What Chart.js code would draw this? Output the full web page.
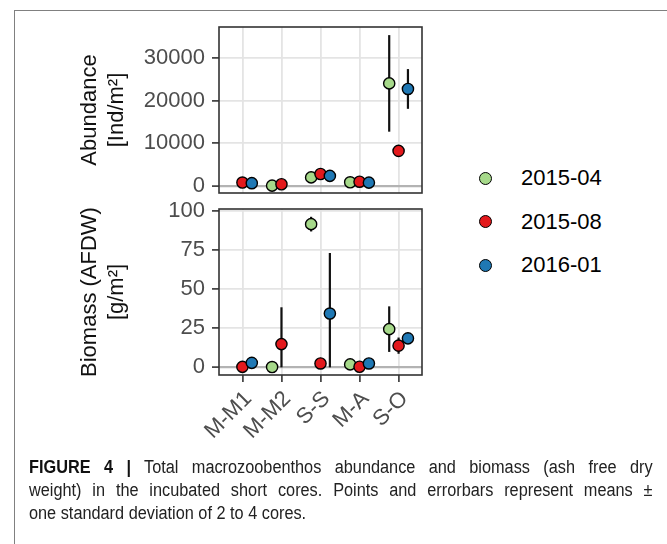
<!DOCTYPE html>
<html>
<head>
<meta charset="utf-8">
<script src="https://cdn.jsdelivr.net/npm/chart.js@4/dist/chart.umd.min.js"></script>
<style>
  html, body { margin: 0; padding: 0; background: #fff; }
  body { width: 667px; height: 544px; position: relative; overflow: hidden;
         font-family: "Liberation Sans", Arial, Helvetica, sans-serif; }
  #frame { position: absolute; left: 14px; top: 10px; width: 720px; height: 600px;
           border-left: 1.5px solid #808080; border-top: 1.5px solid #808080; }
  #topChart { position: absolute; left: 0; top: 0; }
  #bottomChart { position: absolute; left: 0; top: 180px; }
  .legend-row { position: absolute; left: 479px; height: 26px; display: flex; align-items: center; }
  .legend-dot { width: 13px; height: 13px; box-sizing: border-box; border-radius: 50%;
                border: 1.3px solid #000; margin-right: 29px; }
  .legend-text { font-size: 22px; color: #000; }
  #caption { position: absolute; left: 29px; top: 456px; width: 689px; font-size: 18px;
             line-height: 23px; color: #222; transform: scaleX(0.905); transform-origin: 0 0; }
  #caption div { white-space: nowrap; text-align: justify; text-align-last: justify; }
  #caption div.last { text-align-last: left; }
  #caption b { color: #111; }
</style>
</head>
<body>
<div id="frame"></div>
<canvas id="topChart" width="440" height="214"></canvas>
<canvas id="bottomChart" width="440" height="290"></canvas>
<div id="legend"></div>
<div id="caption">
  <div><b>FIGURE 4 |</b> Total macrozoobenthos abundance and biomass (ash free dry</div>
  <div>weight) in the incubated short cores. Points and errorbars represent means ±</div>
  <div class="last">one standard deviation of 2 to 4 cores.</div>
</div>
<script>
// Sampling sites and sampling campaigns
const categories = ['M-M1', 'M-M2', 'S-S', 'M-A', 'S-O'];
const campaigns = ['2015-04', '2015-08', '2016-01'];
const campaignColors = ['#a6d98a', '#e3191c', '#1f78b4'];

// Abundance [Ind/m²]: means and standard deviations per campaign
const abundanceMean0415 = [null, 80, 2000, 860, 24000];
const abundanceMean0815 = [800, 400, 2800, 1000, 8200];
const abundanceMean0116 = [650, null, 2350, 770, 22700];
const abundanceSd0415 = [null, 60, 500, 300, 11300];
const abundanceSd0815 = [400, 300, 700, 500, 900];
const abundanceSd0116 = [300, null, 600, 300, 4650];

// Biomass (AFDW) [g/m²]: means and standard deviations per campaign
const biomassMean0415 = [null, 0.2, 91.8, 1.9, 24.5];
const biomassMean0815 = [0.3, 14.9, 2.5, 0.4, 13.9];
const biomassMean0116 = [2.9, null, 34.5, 2.5, 18.6];
const biomassSd0415 = [null, 0.2, 4.7, 1.5, 14.6];
const biomassSd0815 = [0.3, 23.6, 2.0, 0.4, 5.2];
const biomassSd0116 = [2.0, null, 38.8, 2.0, 2.5];

// Tick values
const abundanceTicks = [0, 5000, 10000, 15000, 20000, 25000, 30000, 35000];
const biomassTicks = [0, 12.5, 25, 37.5, 50, 62.5, 75, 87.5, 100];
const abundanceLabelStep = 10000;
const biomassLabelStep = 25;

const dodge = [-0.24, 0, 0.24];

Chart.defaults.font.family = "'Liberation Sans', Arial, Helvetica, sans-serif";
Chart.defaults.font.size = 22;

function makeDatasets(means, sds) {
  return campaigns.map((name, s) => ({
    label: name,
    data: categories.map((c, i) => ({ x: i + 1 + dodge[s], y: means[s][i] })),
    sd: sds[s],
    pointRadius: 5.6,
    pointHoverRadius: 5.6,
    pointBorderWidth: 1.4,
    pointBorderColor: '#000',
    pointBackgroundColor: campaignColors[s],
    showLine: false,
    order: campaigns.length - s
  }));
}

// Vertical error bars (mean ± sd, floored at zero), drawn beneath the points
const errorBars = {
  id: 'errorBars',
  beforeDatasetsDraw(chart) {
    const { ctx, scales: { x, y } } = chart;
    ctx.save();
    ctx.strokeStyle = '#111';
    ctx.lineWidth = 2.2;
    chart.data.datasets.forEach(ds => {
      ds.data.forEach((pt, i) => {
        if (pt.y == null || ds.sd[i] == null) return;
        const px = x.getPixelForValue(pt.x);
        const hi = y.getPixelForValue(pt.y + ds.sd[i]);
        const lo = y.getPixelForValue(Math.max(0, pt.y - ds.sd[i]));
        ctx.beginPath();
        ctx.moveTo(px, hi);
        ctx.lineTo(px, lo);
        ctx.stroke();
      });
    });
    ctx.restore();
  }
};

// Dark box around each panel
const panelBox = {
  id: 'panelBox',
  afterDatasetsDraw(chart) {
    const { ctx, chartArea: a } = chart;
    ctx.save();
    ctx.strokeStyle = '#333';
    ctx.lineWidth = 1.6;
    ctx.strokeRect(a.left, a.top, a.right - a.left, a.bottom - a.top);
    ctx.restore();
  }
};

function yScale(min, max, ticks, step, title) {
  const isMajor = v => Math.abs(v / step - Math.round(v / step)) < 1e-9;
  return {
    type: 'linear',
    min, max,
    afterBuildTicks: s => { s.ticks = ticks.map(v => ({ value: v })); },
    afterFit: s => { s.width = 142; },
    border: { display: false },
    grid: {
      color: c => c.tick && c.tick.value === 0 ? '#b3b3b3' : (isMajor(c.tick.value) ? '#e4e4e4' : '#eeeeee'),
      lineWidth: c => c.tick && c.tick.value === 0 ? 2.2 : (isMajor(c.tick.value) ? 1.8 : 1.2),
      tickColor: c => isMajor(c.tick.value) ? '#333' : 'rgba(0,0,0,0)',
      tickWidth: 1.6,
      tickLength: 7
    },
    ticks: {
      color: '#4d4d4d',
      padding: 7,
      font: { size: 22 },
      callback: v => isMajor(v) ? String(v) : ''
    },
    title: {
      display: true,
      text: title,
      color: '#111',
      padding: 0,
      font: { size: 22, lineHeight: 1.2 }
    }
  };
}

function xScale(showLabels, height) {
  return {
    type: 'linear',
    min: 0.4, max: 5.6,
    afterBuildTicks: s => { s.ticks = categories.map((c, i) => ({ value: i + 1 })); },
    afterFit: s => { s.height = height; },
    border: { display: false },
    grid: {
      color: '#e4e4e4',
      lineWidth: 1.8,
      drawTicks: showLabels,
      tickColor: '#333',
      tickWidth: 1.6,
      tickLength: 7
    },
    ticks: {
      display: showLabels,
      color: '#4d4d4d',
      padding: 4,
      labelOffset: 6,
      font: { size: 22 },
      minRotation: 45,
      maxRotation: 45,
      autoSkip: false,
      callback: v => categories[Math.round(v) - 1] || ''
    }
  };
}

const commonOptions = {
  responsive: false,
  animation: false,
  events: [],
  plugins: { legend: { display: false }, tooltip: { enabled: false } }
};

new Chart(document.getElementById('topChart'), {
  type: 'scatter',
  data: { datasets: makeDatasets([abundanceMean0415, abundanceMean0815, abundanceMean0116],
                                 [abundanceSd0415, abundanceSd0815, abundanceSd0116]) },
  options: Object.assign({}, commonOptions, {
    layout: { padding: { left: 77, top: 27, right: 18, bottom: 21 } },
    scales: {
      x: xScale(false, 0),
      y: yScale(-1650, 37200, abundanceTicks, abundanceLabelStep, ['Abundance', '[Ind/m²]'])
    }
  }),
  plugins: [errorBars, panelBox]
});

new Chart(document.getElementById('bottomChart'), {
  type: 'scatter',
  data: { datasets: makeDatasets([biomassMean0415, biomassMean0815, biomassMean0116],
                                 [biomassSd0415, biomassSd0815, biomassSd0116]) },
  options: Object.assign({}, commonOptions, {
    layout: { padding: { left: 77, top: 29, right: 18, bottom: 0 } },
    scales: {
      x: xScale(true, 95),
      y: yScale(-4.9, 101.5, biomassTicks, biomassLabelStep, ['Biomass (AFDW)', '[g/m²]'])
    }
  }),
  plugins: [errorBars, panelBox]
});

// Legend for the three campaigns
const legend = document.getElementById('legend');
const legendTop = [165, 208.5, 252];
campaigns.forEach((name, s) => {
  const row = document.createElement('div');
  row.className = 'legend-row';
  row.style.top = legendTop[s] + 'px';
  const dot = document.createElement('div');
  dot.className = 'legend-dot';
  dot.style.background = campaignColors[s];
  const txt = document.createElement('span');
  txt.className = 'legend-text';
  txt.textContent = name;
  row.appendChild(dot);
  row.appendChild(txt);
  legend.appendChild(row);
});
</script>
</body>
</html>
